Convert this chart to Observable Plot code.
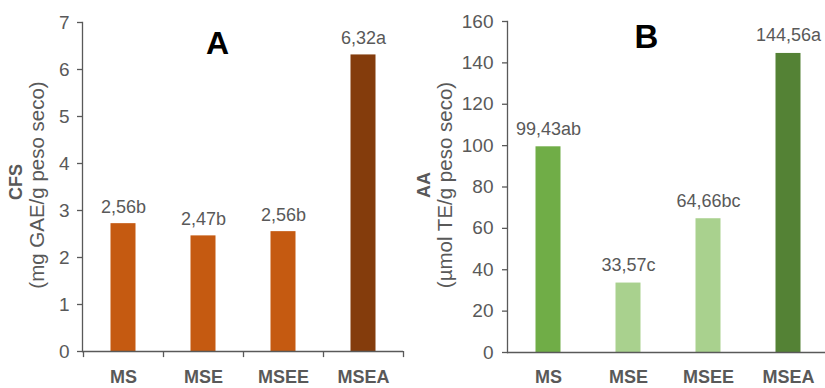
<!DOCTYPE html>
<html>
<head>
<meta charset="utf-8">
<script src="https://cdn.jsdelivr.net/npm/d3@7"></script>
<script src="https://cdn.jsdelivr.net/npm/@observablehq/plot@0.6"></script>
<style>
  html, body { margin: 0; padding: 0; background: #fff; }
  #wrap { display: flex; width: 825px; height: 388px; overflow: hidden; }
  #wrap svg { display: block; overflow: visible; }
</style>
</head>
<body>
<div id="wrap"></div>
<script>
const categories = ["MS", "MSE", "MSEE", "MSEA"];

// Panel A (CFS)
const cfsValues = [2.72, 2.46, 2.55, 6.31];
const cfsLabels = ["2,56b", "2,47b", "2,56b", "6,32a"];
const cfsColors = ["#C55A11", "#C55A11", "#C55A11", "#843C0C"];
const cfsTicks = [0, 1, 2, 3, 4, 5, 6, 7];

// Panel B (AA)
const aaValues = [99.43, 33.57, 64.66, 144.56];
const aaLabels = ["99,43ab", "33,57c", "64,66bc", "144,56a"];
const aaColors = ["#70AD47", "#A9D18E", "#A9D18E", "#548235"];
const aaTicks = [0, 20, 40, 60, 80, 100, 120, 140, 160];

const grey = "#595959";
const font = "'Liberation Sans', Arial, sans-serif";

const cfsData = categories.map((c, i) => ({cat: c, value: cfsValues[i], label: cfsLabels[i], color: cfsColors[i]}));
const aaData = categories.map((c, i) => ({cat: c, value: aaValues[i], label: aaLabels[i], color: aaColors[i]}));

const chartA = Plot.plot({
  width: 410, height: 388,
  marginLeft: 82, marginRight: 7, marginTop: 22, marginBottom: 37,
  style: {fontFamily: font, color: grey, background: "transparent", overflow: "visible"},
  x: {domain: categories, range: [82.5, 402.5], padding: 0},
  y: {domain: [0, 7]},
  color: {type: "identity"},
  marks: [
    Plot.barY(cfsData, {x: "cat", y: "value", fill: "color", insetLeft: 27.5, insetRight: 27.5}),
    Plot.axisY({ticks: cfsTicks, tickFormat: d => String(d), tickSize: 5, tickPadding: 8, fontSize: 19, label: null, strokeWidth: 1.3}),
    Plot.axisX({tickSize: 0, tickPadding: 19, fontSize: 18, fontWeight: "bold", label: null}),
    Plot.frame({anchor: "left", stroke: grey, strokeWidth: 1.3}),
    Plot.ruleY([0], {stroke: grey, strokeWidth: 1.3}),
    Plot.ruleX(categories, {x: d => d, dx: 40, y1: 0, y2: -0.13, stroke: grey, strokeWidth: 1.3}),
    Plot.ruleX([categories[0]], {x: d => d, dx: -40, y1: 0, y2: -0.13, stroke: grey, strokeWidth: 1.3}),
    Plot.text(cfsData, {x: "cat", y: "value", text: "label", lineAnchor: "bottom", dy: -11, fontSize: 18, fill: grey}),
    Plot.text(["A"], {frameAnchor: "top", dx: -25.5, dy: 31, lineAnchor: "bottom", fontSize: 32, fontWeight: "bold", fill: "#000"}),
    Plot.text(["CFS"], {frameAnchor: "left", rotate: -90, dx: -66, dy: -5, fontSize: 18, fontWeight: "bold", fill: grey, textAnchor: "middle", lineAnchor: "middle"}),
    Plot.text(["(mg GAE/g peso seco)"], {frameAnchor: "left", rotate: -90, dx: -45, dy: -2, fontSize: 20.5, fill: grey, textAnchor: "middle", lineAnchor: "middle"})
  ]
});

const chartB = Plot.plot({
  width: 415, height: 388,
  marginLeft: 97, marginRight: 0, marginTop: 21, marginBottom: 36,
  style: {fontFamily: font, color: grey, background: "transparent", overflow: "visible"},
  x: {domain: categories, range: [98, 418], padding: 0},
  y: {domain: [0, 160]},
  color: {type: "identity"},
  marks: [
    Plot.barY(aaData, {x: "cat", y: "value", fill: "color", insetLeft: 27.5, insetRight: 27.5}),
    Plot.axisY({ticks: aaTicks, tickFormat: d => String(d), tickSize: 5, tickPadding: 9, fontSize: 19, label: null, strokeWidth: 1.3}),
    Plot.axisX({tickSize: 0, tickPadding: 18, fontSize: 18, fontWeight: "bold", label: null}),
    Plot.frame({anchor: "left", stroke: grey, strokeWidth: 1.3}),
    Plot.ruleY([0], {stroke: grey, strokeWidth: 1.3}),
    Plot.text(aaData, {x: "cat", y: "value", text: "label", lineAnchor: "bottom", dy: -12, fontSize: 18, fill: grey}),
    Plot.text(["B"], {frameAnchor: "top", dx: -20, dy: 26, lineAnchor: "bottom", fontSize: 33, fontWeight: "bold", fill: "#000"}),
    Plot.text(["AA"], {frameAnchor: "left", rotate: -90, dx: -83, dy: -2, fontSize: 18, fontWeight: "bold", fill: grey, textAnchor: "middle", lineAnchor: "middle"}),
    Plot.text(["(µmol TE/g peso seco)"], {frameAnchor: "left", rotate: -90, dx: -62, dy: -2, fontSize: 20.5, fill: grey, textAnchor: "middle", lineAnchor: "middle"})
  ]
});

document.getElementById("wrap").append(chartA, chartB);
</script>
</body>
</html>
